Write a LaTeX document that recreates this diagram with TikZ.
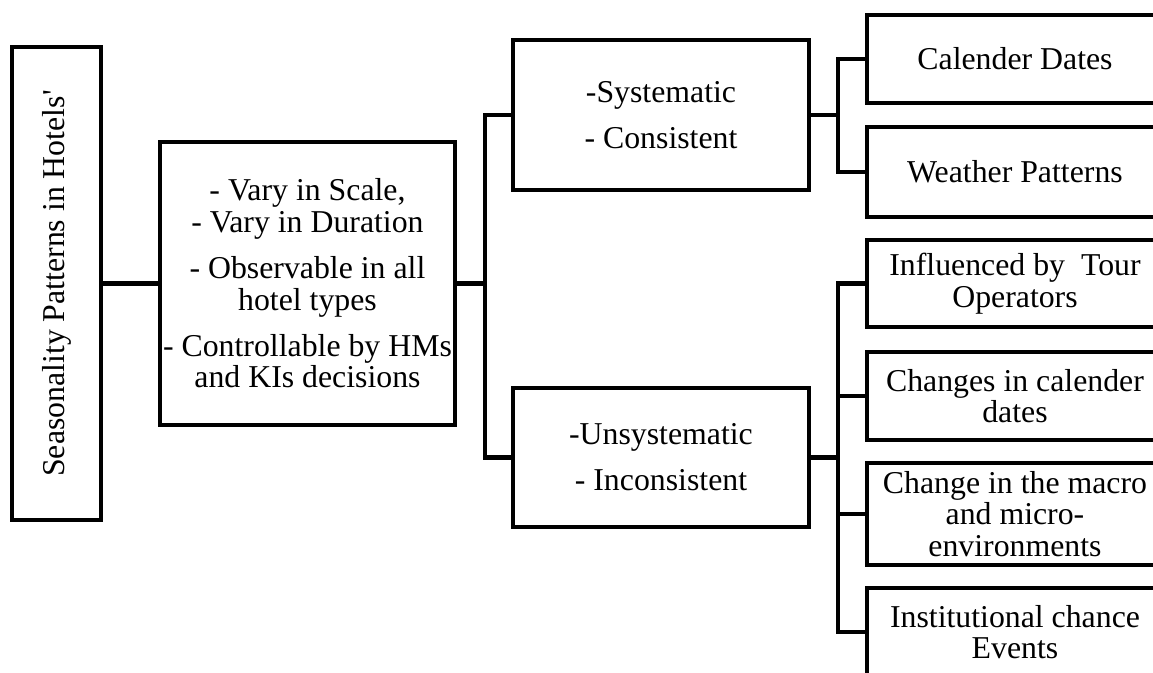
\documentclass[tikz,border=0pt]{standalone}
\usepackage{fontspec}
\setmainfont{Liberation Serif}
\usepackage{graphicx}
\begin{document}
\begin{tikzpicture}[x=0.5pt,y=-0.5pt,
  box/.style={draw, line width=2.2pt, rectangle, align=center, inner sep=0pt,
    font=\fontsize{15.9pt}{15.8pt}\selectfont},
  link/.style={line width=2.2pt, line join=miter}]
\useasboundingbox (0,0) rectangle (1153,673);
\clip (0,0) rectangle (1153,673);
\node[box, minimum width=44.5pt, minimum height=236.5pt] (season) at (56.5,283.5)
  {\rotatebox{90}{Seasonality Patterns in Hotels\textquotesingle}};
\node[box, minimum width=147.5pt, minimum height=141.5pt] (mid) at (307.5,283.5)
  {- Vary in Scale,\\ - Vary in Duration\\[7.2pt] - Observable in all\\ hotel types\\[7.2pt] - Controllable by HMs\\ and KIs decisions};
\node[box, minimum width=148pt, minimum height=75pt] (sys) at (661,115)
  {-Systematic\\[7.2pt] - Consistent};
\node[box, minimum width=148pt, minimum height=69.5pt] (uns) at (661,457.5)
  {-Unsystematic\\[7.2pt] - Inconsistent};
\node[box, minimum width=148pt, minimum height=44pt] (r1) at (1015,59) {Calender Dates};
\node[box, minimum width=148pt, minimum height=45pt] (r2) at (1015,172) {Weather Patterns};
\node[box, minimum width=148pt, minimum height=43.5pt] (r3) at (1015,283.5) {Influenced by~ Tour\\ Operators};
\node[box, minimum width=148pt, minimum height=44pt] (r4) at (1015,396) {Changes in calender\\ dates};
\node[box, minimum width=148pt, minimum height=51pt] (r5) at (1015,514) {Change in the macro\\ and micro-\\ environments};
\node[box, minimum width=148pt, minimum height=44pt] (r6) at (1015,632) {Institutional chance\\ Events};
\coordinate (b1) at (485,283.5);
\coordinate (b2) at (838,115);
\coordinate (b3) at (838,457.5);
\draw[link] (season.east) -- (mid.west);
\draw[link] (mid.east) -- (b1);
\draw[link] (sys.west) -| (b1) |- (uns.west);
\draw[link] (sys.east) -- (b2);
\draw[link] (r1.west) -| (b2) |- (r2.west);
\draw[link] (uns.east) -- (b3);
\draw[link] (r3.west) -| (b3) |- (r6.west);
\draw[link] (r4.west) -- (r4.west -| b3);
\draw[link] (r5.west) -- (r5.west -| b3);
\end{tikzpicture}
\end{document}
